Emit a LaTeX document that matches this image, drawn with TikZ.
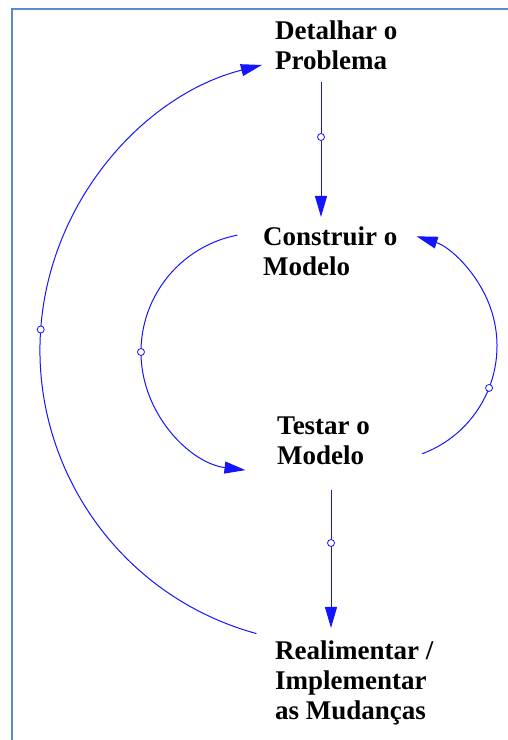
\documentclass[tikz,border=0pt]{standalone}
\usepackage{fontspec}
\setmainfont{Liberation Serif}
\usetikzlibrary{arrows.meta}
\definecolor{framec}{RGB}{90,138,200}
\definecolor{linec}{RGB}{20,20,255}
\begin{document}
\begin{tikzpicture}[x=1pt,y=1pt,
  lbl/.style={anchor=north west, inner sep=0pt, align=left, font=\fontsize{27}{30}\selectfont\bfseries},
  conn/.style={draw=linec, line width=1pt, -{Triangle[length=21pt,width=12pt]}},
  mk/.style={circle, draw=linec, fill=white, inner sep=0pt, minimum size=7pt, line width=0.8pt}]
\useasboundingbox (0,0) rectangle (508,740);
\draw[framec, line width=2pt] (11.5,0) -- (11.5,731) -- (508,731);
% labels
\node[lbl] (det) at (275,719.5) {Detalhar o\\Problema};
\node[lbl] (con) at (263,513.5) {Construir o\\Modelo};
\node[lbl] (tes) at (277,323.5) {Testar o\\Modelo};
\node[lbl] (rea) at (275,99.5) {Realimentar /\\Implementar\\as Mudanças};
% straight connectors
\coordinate (a1s) at (321,658); \coordinate (a1e) at (321,523);
\draw[conn] (a1s) -- (a1e);
\node[mk] (m1) at (321,603) {};
\coordinate (a2s) at (331,250); \coordinate (a2e) at (331,112);
\draw[conn] (a2s) -- (a2e);
\node[mk] (m2) at (331,197) {};
% left inner arc: Construir -> Testar
\coordinate (c3) at (260,388);
\path (c3) ++(101:119) coordinate (a3s);
\draw[conn] (a3s) arc[start angle=101, end angle=263, radius=119];
\path (c3) ++(180:119) node[mk] (m3) {};
% right arc: Testar -> Construir
\coordinate (c4) at (382,394);
\path (c4) ++(-69.5:115) coordinate (a4s);
\draw[conn] (a4s) arc[start angle=-69.5, end angle=72.5, radius=115];
\path (c4) ++(-21.4:115) node[mk] (m4) {};
% outer arc: Realimentar -> Detalhar
\coordinate (c5) at (334,390);
\path (c5) ++(254.7:294) coordinate (a5s);
\draw[conn] (a5s) arc[start angle=254.7, end angle=104.2, radius=294];
\path (c5) ++(176:294) node[mk] (m5) {};
\end{tikzpicture}
\end{document}
